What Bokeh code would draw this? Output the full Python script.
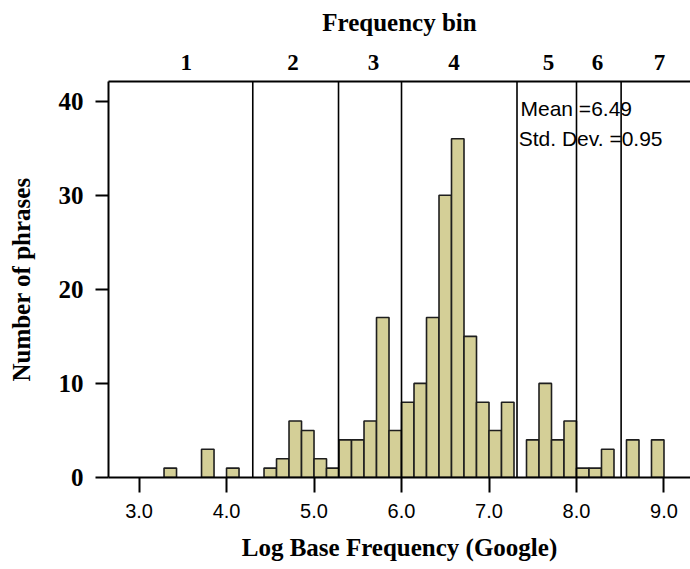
from bokeh.plotting import figure
from bokeh.models import LinearAxis, FixedTicker, Range1d, Label
from bokeh.embed import file_html
from bokeh.resources import INLINE
import numpy as np

# ---- data ----
bin_start = 3.0
bin_width = 1.0 / 7.0
counts = [0, 0, 1, 0, 0, 3, 0, 1, 0, 0, 1, 2, 6, 5, 2, 1, 4, 4, 6, 17, 5,
          8, 10, 17, 30, 36, 15, 8, 5, 8, 0, 4, 10, 4, 6, 1, 1, 3, 0, 4, 0, 4]
bin_boundaries = [4.3, 5.28, 6.0, 7.32, 8.0, 8.51]
bin_labels = ["1", "2", "3", "4", "5", "6", "7"]
bin_label_pos = [3.54, 4.76, 5.68, 6.60, 7.68, 8.24, 8.95]
x_ticks = [3, 4, 5, 6, 7, 8, 9]
x_tick_labels = ["3.0", "4.0", "5.0", "6.0", "7.0", "8.0", "9.0"]
y_ticks = [0, 10, 20, 30, 40]
mean_text = "Mean =6.49"
sd_text = "Std. Dev. =0.95"

# ---- build ----
n = len(counts)
lefts = bin_start + np.arange(n) * bin_width
rights = lefts + bin_width
cnt = np.array(counts)
mask = cnt > 0

Y_TOP = 42.09
p = figure(frame_width=582, frame_height=396,
           x_range=Range1d(2.651, 9.303), y_range=Range1d(0, Y_TOP),
           output_backend="svg", toolbar_location=None,
           x_axis_location=None, y_axis_location=None,
           min_border_left=108, min_border_right=0,
           min_border_top=81, min_border_bottom=92)
p.grid.visible = False
p.outline_line_color = None
p.background_fill_color = "white"
p.border_fill_color = "white"

serif = "Liberation Serif"
sans = "Liberation Sans"

p.quad(left=lefts[mask], right=rights[mask], top=cnt[mask], bottom=0,
       fill_color="#d4cf97", line_color="#1e1e1e", line_width=1.6)

p.segment(x0=bin_boundaries, x1=bin_boundaries,
          y0=[0] * len(bin_boundaries), y1=[Y_TOP] * len(bin_boundaries),
          line_color="black", line_width=1.6)

# left axis
ya = LinearAxis(ticker=FixedTicker(ticks=y_ticks), minor_tick_line_color=None)
ya.major_tick_out = 13
ya.major_tick_in = 0
ya.major_tick_line_width = 2
ya.axis_line_width = 2
ya.major_label_standoff = 12
ya.major_label_text_font = serif
ya.major_label_text_font_style = "bold"
ya.major_label_text_font_size = "25px"
ya.major_label_text_color = "black"
ya.axis_label = "Number of phrases"
ya.axis_label_text_font = serif
ya.axis_label_text_font_style = "bold"
ya.axis_label_text_font_size = "25px"
ya.axis_label_text_color = "black"
ya.axis_label_standoff = 21
p.add_layout(ya, "left")

# bottom axis
xa = LinearAxis(ticker=FixedTicker(ticks=x_ticks), minor_tick_line_color=None)
xa.major_label_overrides = {t: l for t, l in zip(x_ticks, x_tick_labels)}
xa.major_tick_out = 15
xa.major_tick_in = 0
xa.major_tick_line_width = 2
xa.axis_line_width = 2
xa.major_label_standoff = 11
xa.major_label_text_font = sans
xa.major_label_text_font_size = "20px"
xa.major_label_text_color = "black"
xa.axis_label = "Log Base Frequency (Google)"
xa.axis_label_text_font = serif
xa.axis_label_text_font_style = "bold"
xa.axis_label_text_font_size = "25px"
xa.axis_label_text_color = "black"
xa.axis_label_standoff = 13
p.add_layout(xa, "below")

# top axis (frequency bins)
ta = LinearAxis(ticker=FixedTicker(ticks=bin_label_pos), minor_tick_line_color=None)
ta.major_label_overrides = {t: l for t, l in zip(bin_label_pos, bin_labels)}
ta.major_tick_out = 0
ta.major_tick_in = 0
ta.axis_line_width = 2
ta.major_label_standoff = 12
ta.major_label_text_font = serif
ta.major_label_text_font_style = "bold"
ta.major_label_text_font_size = "23px"
ta.major_label_text_color = "black"
ta.axis_label = "Frequency bin"
ta.axis_label_text_font = serif
ta.axis_label_text_font_style = "bold"
ta.axis_label_text_font_size = "25px"
ta.axis_label_text_color = "black"
ta.axis_label_standoff = 16
p.add_layout(ta, "above")

p.add_layout(Label(x=7.36, y=39.2, text=mean_text, text_font=sans,
                   text_font_size="21px", text_color="black",
                   text_baseline="middle", text_align="left"))
p.add_layout(Label(x=7.34, y=36.0, text=sd_text, text_font=sans,
                   text_font_size="21px", text_color="black",
                   text_baseline="middle", text_align="left"))

open("out.html", "w").write(file_html(p, INLINE))
